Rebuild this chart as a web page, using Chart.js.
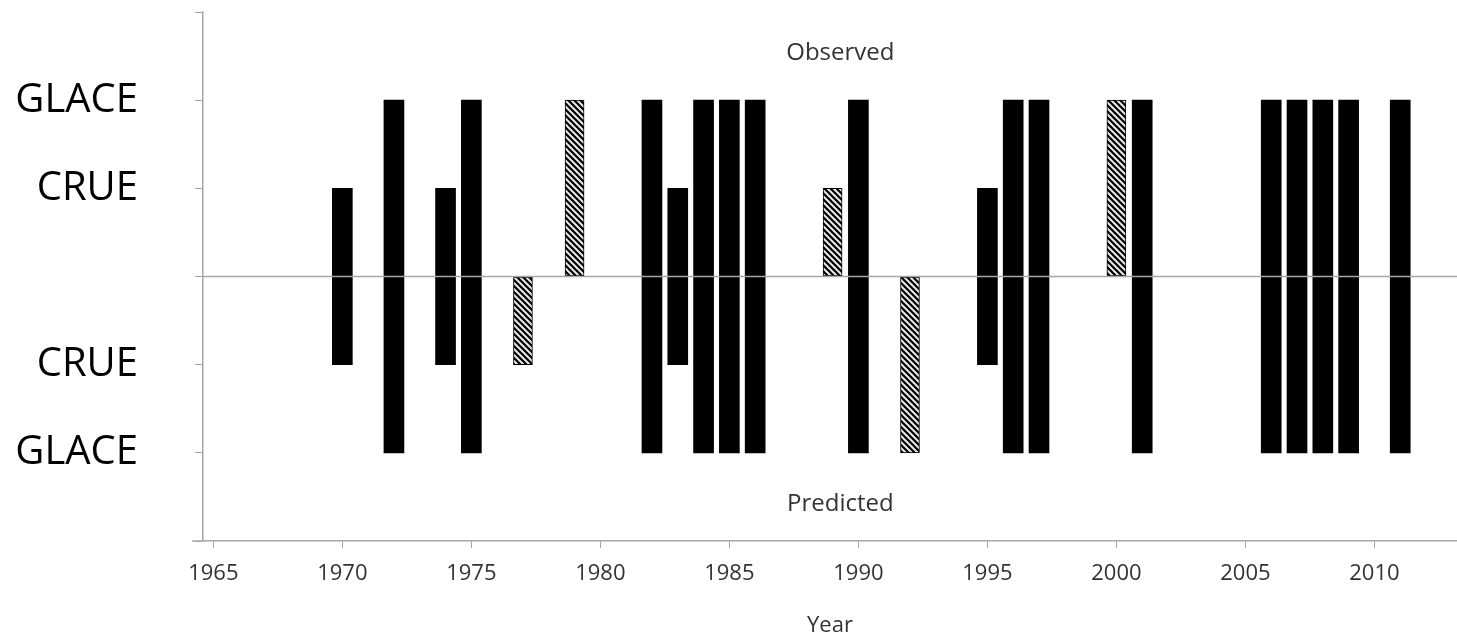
<!DOCTYPE html>
<html>
<head>
<meta charset="utf-8">
<script src="https://cdn.jsdelivr.net/npm/chart.js@4/dist/chart.umd.min.js"></script>
<style>
  html, body { margin: 0; padding: 0; background: #fff; }
  #wrap { width: 1457px; height: 638px; }
</style>
</head>
<body>
<div id="wrap"><canvas id="chart"></canvas></div>
<script>
// ice jam (GLACE) / flood (CRUE) events, observed above the line, predicted below
const solidYears = [1970, 1972, 1974, 1975, 1982, 1983, 1984, 1985, 1986, 1990, 1995, 1996, 1997, 2001, 2006, 2007, 2008, 2009, 2011];
const solidObserved = [1, 2, 1, 2, 2, 1, 2, 2, 2, 2, 1, 2, 2, 2, 2, 2, 2, 2, 2];
const solidPredicted = [-1, -2, -1, -2, -2, -1, -2, -2, -2, -2, -1, -2, -2, -2, -2, -2, -2, -2, -2];

const hatchYears = [1977, 1979, 1989, 1992, 2000];
const hatchObserved = [0, 2, 1, 0, 2];
const hatchPredicted = [-1, 0, 0, -2, 0];

const xTicks = [1965, 1970, 1975, 1980, 1985, 1990, 1995, 2000, 2005, 2010];
const yTicks = [-3, -2, -1, 0, 1, 2, 3];
const yLabels = { '2': 'GLACE', '1': 'CRUE', '-1': 'CRUE', '-2': 'GLACE' };

const axisGrey = '#a6a6a6';

// diagonal hatch for the partially matching years
function makeHatch() {
  const c = document.createElement('canvas');
  c.width = 6; c.height = 6;
  const g = c.getContext('2d');
  g.fillStyle = '#e8e8e8';
  g.fillRect(0, 0, 6, 6);
  g.strokeStyle = '#000';
  g.lineWidth = 2.2;
  g.beginPath();
  g.moveTo(-1, -1); g.lineTo(7, 7);
  g.moveTo(-4, 2); g.lineTo(4, 10);
  g.moveTo(2, -4); g.lineTo(10, 4);
  g.stroke();
  return g.createPattern(c, 'repeat');
}

const toBars = (years, obs, pred) => years.map((yr, i) => ({ x: yr, y: [pred[i], obs[i]] }));

const overlay = {
  id: 'overlay',
  afterDatasetsDraw(chart) {
    const { ctx, chartArea, scales } = chart;
    const y0 = scales.y.getPixelForValue(0);
    ctx.save();
    ctx.strokeStyle = axisGrey;
    ctx.lineWidth = 1.5;
    ctx.beginPath();
    ctx.moveTo(chartArea.left, y0);
    ctx.lineTo(chartArea.right, y0);
    // x axis line runs a little past the y axis
    const yb = scales.y.getPixelForValue(-3);
    ctx.moveTo(chartArea.left - 11, yb);
    ctx.lineTo(chartArea.left, yb);
    ctx.stroke();

    ctx.fillStyle = '#333';
    ctx.textAlign = 'center';
    ctx.textBaseline = 'middle';
    ctx.font = '24px "Open Sans"';
    const cx = scales.x.getPixelForValue(1989.3);
    ctx.fillText('Observed', cx, scales.y.getPixelForValue(2.53));
    ctx.fillText('Predicted', cx, scales.y.getPixelForValue(-2.58));
    ctx.font = '22px "Open Sans"';
    ctx.fillText('Year', (chartArea.left + chartArea.right) / 2, 626);
    ctx.restore();
  }
};

const ctx = document.getElementById('chart').getContext('2d');
new Chart(ctx, {
  type: 'bar',
  data: {
    datasets: [
      {
        data: toBars(solidYears, solidObserved, solidPredicted),
        backgroundColor: '#000',
        borderWidth: 0,
        barThickness: 20,
        grouped: false
      },
      {
        data: toBars(hatchYears, hatchObserved, hatchPredicted),
        backgroundColor: makeHatch(),
        borderColor: '#000',
        borderWidth: 1,
        borderSkipped: false,
        barThickness: 19,
        grouped: false
      }
    ]
  },
  options: {
    responsive: true,
    maintainAspectRatio: false,
    animation: false,
    layout: { padding: { top: 12, right: 0, left: 0, bottom: 0 } },
    plugins: { legend: { display: false }, tooltip: { enabled: false } },
    scales: {
      x: {
        type: 'linear',
        min: 1964.6,
        max: 2013.2,
        offset: false,
        afterBuildTicks: s => { s.ticks = xTicks.map(v => ({ value: v })); },
        afterFit: s => { s.height = 97; s.paddingLeft = 0; s.paddingRight = 0; },
        grid: { offset: false, drawOnChartArea: false, drawTicks: true, tickLength: 7, color: axisGrey },
        border: { color: axisGrey, width: 1.5 },
        ticks: {
          padding: 13,
          maxRotation: 0,
          autoSkip: false,
          color: '#333',
          font: { family: 'Open Sans', size: 22 },
          callback: v => String(v)
        }
      },
      y: {
        min: -3,
        max: 3,
        afterBuildTicks: s => { s.ticks = yTicks.map(v => ({ value: v })); },
        afterFit: s => { s.width = 203; s.paddingTop = 0; s.paddingBottom = 0; },
        grid: { drawOnChartArea: false, drawTicks: true, tickLength: 8, color: axisGrey },
        border: { color: axisGrey, width: 1.5 },
        ticks: {
          padding: 57,
          autoSkip: false,
          color: '#000',
          font: { family: 'Open Sans', size: 40 },
          callback: v => yLabels[String(v)] || ''
        }
      }
    }
  },
  plugins: [overlay]
});
</script>
</body>
</html>
